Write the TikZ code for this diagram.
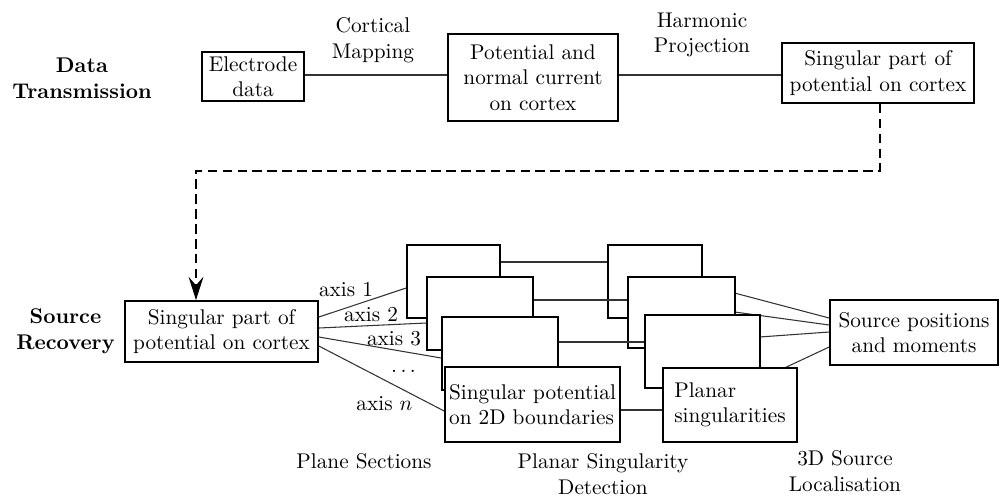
\documentclass[tikz,border=0pt]{standalone}
\usetikzlibrary{calc,arrows.meta}
\pgfdeclarelayer{back}
\pgfsetlayers{back,main}
\begin{document}
\begin{tikzpicture}[x=0.47pt,y=-0.47pt,
  box/.style={draw,line width=0.8pt,fill=white,inner sep=0pt,align=center},
  conn/.style={line width=0.5pt,black!80},
  dashconn/.style={line width=0.8pt,dash pattern=on 4.5pt off 2.5pt,-{Stealth[length=11pt,width=7pt,inset=4pt]}},
  lab/.style={inner sep=0pt,align=center},
  boldlab/.style={inner sep=0pt,align=center,font=\bfseries}]
\useasboundingbox (0,0) rectangle (1001,497);

% ---- Data transmission row
\node[boldlab] (dt) at (82,78.5) {Data\\Transmission};
\node[box,minimum width=47.94pt,minimum height=23.03pt] (ed) at (253,76.5) {Electrode\\data};
\node[box,minimum width=79.9pt,minimum height=40.89pt] (pc) at (533,77.5) {Potential and\\normal current\\on cortex};
\node[box,minimum width=90.24pt,minimum height=28.2pt] (sp) at (878,73) {Singular part of\\potential on cortex};
\node[lab] (cm) at (373,40) {Cortical\\Mapping};
\node[lab] (hp) at (702,35) {Harmonic\\Projection};
\path ($(ed.east)+(0,-1.5)$) coordinate (e1);
\draw[conn] (e1) -- (e1 -| pc.west);
\path ($(pc.east)+(0,-2.5)$) coordinate (e2);
\draw[conn] (e2) -- (e2 -| sp.west);

% ---- Source recovery row
\node[boldlab] (sr) at (65.5,331) {Source\\Recovery};
\node[box,minimum width=90.71pt,minimum height=28.67pt] (lb) at (221.5,331.5) {Singular part of\\potential on cortex};

% dashed connector
\coordinate (dy) at (0,171);
\path ($(sp.south)+(2,0)$) coordinate (d0);
\path ($(lb.north)+(-25.5,0)$) coordinate (d1);
\draw[dashconn] (d0) -- (d0 |- dy) -- (d1 |- dy) -- (d1);

% plane section stack
\node[box,minimum width=43.71pt,minimum height=34.31pt] (l1) at (453.5,281.5) {};
\node[box,minimum width=49.82pt,minimum height=34.31pt] (l2) at (480,313.5) {};
\node[box,minimum width=54.52pt,minimum height=34.31pt] (l3) at (500,353.5) {};
\node[box,align=left,minimum width=82.25pt,minimum height=35.25pt] (l4) at (532.5,404.5) {Singular potential\\on 2D boundaries};

% planar singularity stack
\node[box,minimum width=44.18pt,minimum height=34.31pt] (r1) at (655,281.5) {};
\node[box,minimum width=50.29pt,minimum height=33.37pt] (r2) at (681.5,312.5) {};
\node[box,minimum width=54.05pt,minimum height=34.31pt] (r3) at (702.5,351.5) {};
\node[box,align=left,minimum width=62.98pt,minimum height=34.78pt] (r4) at (730,405) {Planar\\singularities};

\node[box,minimum width=78.96pt,minimum height=30.55pt] (src) at (914,332.5) {Source positions\\and moments};

% axis connectors
\draw[conn] ($(lb.east)+(0,-14.5)$) -- ($(l1.west)+(0,6.5)$);
\draw[conn] ($(lb.east)+(0,-3.5)$) -- ($(l2.west)+(0,9.5)$);
\draw[conn] ($(lb.east)+(0,5.5)$) -- ($(l3.west)+(0,4.5)$);
\draw[conn] ($(lb.east)+(0,14.5)$) -- ($(l4.west)+(0,6.5)$);
\node[lab] (a1) at (346,290) {axis 1};
\node[lab] (a2) at (371,315) {axis 2};
\node[lab] (a3) at (394,338.5) {axis 3};
\node[lab] (ad) at (403.5,371) {$\ldots$};
\node[lab] (an) at (384.5,403.5) {axis $n$};

% stack-to-stack connectors
\path ($(l1.east)+(0,-19.5)$) coordinate (h1);
\draw[conn] (h1) -- (h1 -| r1.west);
\path ($(l2.east)+(0,-13.5)$) coordinate (h2);
\draw[conn] (h2) -- (h2 -| r2.west);
\path ($(l3.east)+(0,-11.5)$) coordinate (h3);
\draw[conn] (h3) -- (h3 -| r3.west);
\path ($(l4.east)+(0,5.5)$) coordinate (h4);
\draw[conn] (h4) -- (h4 -| r4.west);

% planar singularities to source
\begin{pgfonlayer}{back}
\draw[conn] ($(r1.center)+(0,-9.5)$) -- ($(src.west)+(0,-14.5)$);
\draw[conn] ($(r2.center)+(0,-7.8)$) -- ($(src.west)+(0,-7.5)$);
\draw[conn] ($(r3.center)+(0,-10.4)$) -- ($(src.west)+(0,-0.5)$);
\draw[conn] ($(r4.center)+(0,-11.5)$) -- ($(src.west)+(0,14.5)$);
\end{pgfonlayer}

% stage labels
\node[lab] (ps) at (364,461) {Plane Sections};
\node[lab] (psd) at (603,474) {Planar Singularity\\Detection};
\node[lab] (sl) at (845,471) {3D Source\\Localisation};
\end{tikzpicture}
\end{document}
